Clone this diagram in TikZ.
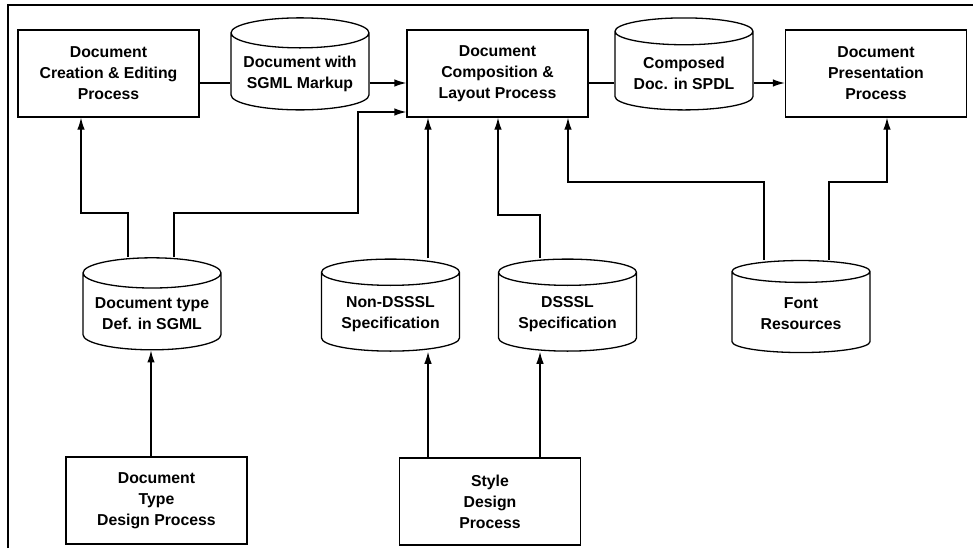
\documentclass[tikz,border=0pt]{standalone}
\usepackage{fontspec}
\setmainfont{Liberation Sans}
\usetikzlibrary{arrows.meta,shapes.geometric}

\begin{document}
\begin{tikzpicture}[x=1pt,y=-1pt,line width=1.3pt,>={Latex[length=12pt,width=7.5pt]},
        font=\bfseries\fontsize{15.8}{21}\selectfont]
        \tikzstyle{proc}=[draw,rectangle,align=center,minimum width=181pt,minimum height=87pt]
        \tikzstyle{store}=[draw,cylinder,shape border rotate=90,aspect=0.25,align=center,
                           minimum width=138pt,minimum height=92pt]

        \useasboundingbox (0,0) rectangle (973,551);
        \draw[line width=1.8pt] (8,548) -- (8,5) -- (973,5); % frame

        \node[proc]   (dce)   at (108.5,73.5) {Document\\Creation \& Editing\\Process};
        \node[store]  (sgml)  at (300,74)     {Document with\\SGML Markup};
        \node[proc]   (dcl)   at (497.5,73.5) {Document\\Composition \&\\Layout Process};
        \node[store]  (spdl)  at (684,73)     {Composed\\Doc. in SPDL};
        \node[proc]   (dpp)   at (876,73.5)   {Document\\Presentation\\Process};
        \node[store]  (dtd)   at (152,314)    {Document type\\Def. in SGML}; % stores
        \node[store]  (nond)  at (390.5,314)  {Non-DSSSL\\Specification};
        \node[store]  (dsssl) at (567.5,314)  {DSSSL\\Specification};
        \node[store]  (font)  at (801,314)    {Font\\Resources};
        \node[proc]   (tdp)   at (156.5,500.5) {Document\\Type\\Design Process}; % design
        \node[proc]   (sdp)   at (490,501.5)  {Style\\Design\\Process};

        \path[->]
                  (dce.east |- 0,83)   edge[-] (sgml.west |- 0,83)
                  (sgml.east |- 0,83)  edge    (dcl.west |- 0,83)
                  (dcl.east |- 0,83)   edge[-] (spdl.west |- 0,83)
                  (spdl.east |- 0,83)  edge    (dpp.west |- 0,83)
                  (428,0 |- nond.north) edge (428,0 |- dcl.south)
                  (151,0 |- tdp.north)  edge (151,0 |- dtd.south)
                  (428,0 |- sdp.north)  edge (428,0 |- nond.south)
                  (540,0 |- sdp.north)  edge (540,0 |- dsssl.south);

        \draw[->] (128,0 |- dtd.north) |- (81,213) -- (81,0 |- dce.south);
        \draw[->] (174,0 |- dtd.north) |- (358,213) |- (dcl.west |- 0,112);
        \draw[->] (540,0 |- dsssl.north) |- (498,215) -- (498,0 |- dcl.south);
        \draw[->] (764,0 |- font.north) |- (568,182) -- (568,0 |- dcl.south);
        \draw[->] (829,0 |- font.north) |- (887,182) -- (887,0 |- dpp.south);
\end{tikzpicture}
\end{document}
